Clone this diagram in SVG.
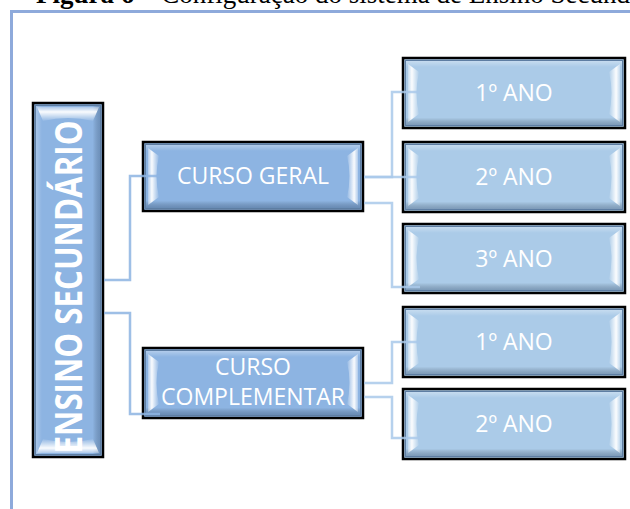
<svg xmlns="http://www.w3.org/2000/svg" width="630" height="509" viewBox="0 0 630 509">
<defs>
<linearGradient id="shade" x1="0" y1="0" x2="0" y2="1">
<stop offset="0" stop-color="#ffffff" stop-opacity="0.35"/>
<stop offset="0.1" stop-color="#ffffff" stop-opacity="0"/>
<stop offset="0.88" stop-color="#000000" stop-opacity="0"/>
<stop offset="1" stop-color="#1f3b5e" stop-opacity="0.35"/>
</linearGradient>
<linearGradient id="shadeV" x1="0" y1="0" x2="1" y2="0">
<stop offset="0" stop-color="#ffffff" stop-opacity="0.25"/>
<stop offset="0.1" stop-color="#ffffff" stop-opacity="0"/>
<stop offset="0.88" stop-color="#000000" stop-opacity="0"/>
<stop offset="1" stop-color="#1f3b5e" stop-opacity="0.3"/>
</linearGradient>
<linearGradient id="hlL" x1="0" y1="0" x2="1" y2="0">
<stop offset="0" stop-color="#ffffff" stop-opacity="0.3"/>
<stop offset="0.35" stop-color="#ffffff" stop-opacity="0.95"/>
<stop offset="1" stop-color="#ffffff" stop-opacity="0.05"/>
</linearGradient>
<linearGradient id="hlR" x1="1" y1="0" x2="0" y2="0">
<stop offset="0" stop-color="#ffffff" stop-opacity="0.3"/>
<stop offset="0.35" stop-color="#ffffff" stop-opacity="0.95"/>
<stop offset="1" stop-color="#ffffff" stop-opacity="0.05"/>
</linearGradient>
<linearGradient id="hlT" x1="0" y1="0" x2="0" y2="1">
<stop offset="0" stop-color="#ffffff" stop-opacity="0.3"/>
<stop offset="0.35" stop-color="#ffffff" stop-opacity="0.95"/>
<stop offset="1" stop-color="#ffffff" stop-opacity="0.05"/>
</linearGradient>
<linearGradient id="hlB" x1="0" y1="1" x2="0" y2="0">
<stop offset="0" stop-color="#ffffff" stop-opacity="0.3"/>
<stop offset="0.35" stop-color="#ffffff" stop-opacity="0.95"/>
<stop offset="1" stop-color="#ffffff" stop-opacity="0.05"/>
</linearGradient>
</defs>
<style>
.frame{stroke:#8eaadb;stroke-width:3;fill:none}
.title{font-family:"Liberation Serif","Times New Roman",serif;font-size:27px;fill:#000}
.dark{fill:#8db4e2;stroke:#000;stroke-width:2.5}
.light{fill:#abcbe8;stroke:#000;stroke-width:2.5}
.inner{fill:url(#shade);stroke:#5e7ea3;stroke-width:1}
.innerV{fill:url(#shadeV);stroke:#5e7ea3;stroke-width:1}
.lbl{font-family:"Open Sans","Liberation Sans",sans-serif;font-size:23px;fill:#ffffff;text-anchor:middle}
.main{font-family:"Open Sans","Liberation Sans",sans-serif;font-size:37px;font-weight:bold;fill:#ffffff;text-anchor:middle}
.c1{stroke:#8db4e2;stroke-width:2.5;fill:none;stroke-opacity:0.85}
.c2{stroke:#a9c9ea;stroke-width:2.5;fill:none;stroke-opacity:0.85}
</style>
<rect width="630" height="509" fill="#ffffff"/>
<text class="title" x="36" y="3"><tspan font-weight="bold">Figura 6</tspan> – Configuração do sistema de Ensino Secundário</text>
<path class="frame" d="M11.5,509 V11.5 H630"/>

<g id="ensino-secundario">
<rect class="dark" x="33" y="103" width="70" height="354"/>
<rect class="innerV" x="35.5" y="105.5" width="65" height="349"/>
<path d="M37,107 H99 L93,121 Q68,115 43,121 Z" fill="url(#hlT)"/>
<text class="main" transform="translate(82,287) rotate(-90)" textLength="333" lengthAdjust="spacingAndGlyphs">ENSINO SECUNDÁRIO</text>
<path d="M37,453 H99 L93,439 Q68,445 43,439 Z" fill="url(#hlB)"/>
</g>

<g id="curso-geral">
<rect class="dark" x="143" y="142" width="220" height="69"/>
<rect class="inner" x="145.5" y="144.5" width="215" height="64"/>
<path d="M148,148 L159,156 Q154,176 159,197 L148,205 Z" fill="url(#hlL)"/>
<path d="M358,148 L347,156 Q352,176 347,197 L358,205 Z" fill="url(#hlR)"/>
<text class="lbl" x="253" y="184">CURSO GERAL</text>
</g>

<g id="curso-complementar">
<rect class="dark" x="143" y="348" width="220" height="70"/>
<rect class="inner" x="145.5" y="350.5" width="215" height="65"/>
<path d="M148,354 L159,362 Q154,383 159,404 L148,412 Z" fill="url(#hlL)"/>
<path d="M358,354 L347,362 Q352,383 347,404 L358,412 Z" fill="url(#hlR)"/>
<text class="lbl" x="253" y="375">CURSO</text>
<text class="lbl" x="253" y="405">COMPLEMENTAR</text>
</g>

<g id="geral-1ano">
<rect class="light" x="403" y="58" width="222" height="70"/>
<rect class="inner" x="405.5" y="60.5" width="217" height="65"/>
<path d="M408,64 L419,72 Q414,93 419,114 L408,122 Z" fill="url(#hlL)"/>
<path d="M620,64 L609,72 Q614,93 609,114 L620,122 Z" fill="url(#hlR)"/>
<text class="lbl" x="514" y="101">1º ANO</text>
</g>

<g id="geral-2ano">
<rect class="light" x="403" y="142" width="222" height="70"/>
<rect class="inner" x="405.5" y="144.5" width="217" height="65"/>
<path d="M408,148 L419,156 Q414,177 419,198 L408,206 Z" fill="url(#hlL)"/>
<path d="M620,148 L609,156 Q614,177 609,198 L620,206 Z" fill="url(#hlR)"/>
<text class="lbl" x="514" y="185">2º ANO</text>
</g>

<g id="geral-3ano">
<rect class="light" x="403" y="224" width="222" height="69"/>
<rect class="inner" x="405.5" y="226.5" width="217" height="64"/>
<path d="M408,230 L419,238 Q414,258 419,279 L408,287 Z" fill="url(#hlL)"/>
<path d="M620,230 L609,238 Q614,258 609,279 L620,287 Z" fill="url(#hlR)"/>
<text class="lbl" x="514" y="267">3º ANO</text>
</g>

<g id="compl-1ano">
<rect class="light" x="403" y="307" width="222" height="70"/>
<rect class="inner" x="405.5" y="309.5" width="217" height="65"/>
<path d="M408,313 L419,321 Q414,342 419,363 L408,371 Z" fill="url(#hlL)"/>
<path d="M620,313 L609,321 Q614,342 609,363 L620,371 Z" fill="url(#hlR)"/>
<text class="lbl" x="514" y="350">1º ANO</text>
</g>

<g id="compl-2ano">
<rect class="light" x="403" y="389" width="222" height="70"/>
<rect class="inner" x="405.5" y="391.5" width="217" height="65"/>
<path d="M408,395 L419,403 Q414,424 419,445 L408,453 Z" fill="url(#hlL)"/>
<path d="M620,395 L609,403 Q614,424 609,445 L620,453 Z" fill="url(#hlR)"/>
<text class="lbl" x="514" y="432">2º ANO</text>
</g>

<g id="connectors">
<path class="c1" d="M104,280 H130 V176 H160"/>
<path class="c1" d="M104,313 H130 V414 H160"/>
<path class="c2" d="M364,177 H392 V92 H420"/>
<path class="c2" d="M364,177 H420"/>
<path class="c2" d="M364,203 H392 V287 H420"/>
<path class="c2" d="M364,383 H392 V342 H420"/>
<path class="c2" d="M364,397 H392 V438 H420"/>
</g>
</svg>
